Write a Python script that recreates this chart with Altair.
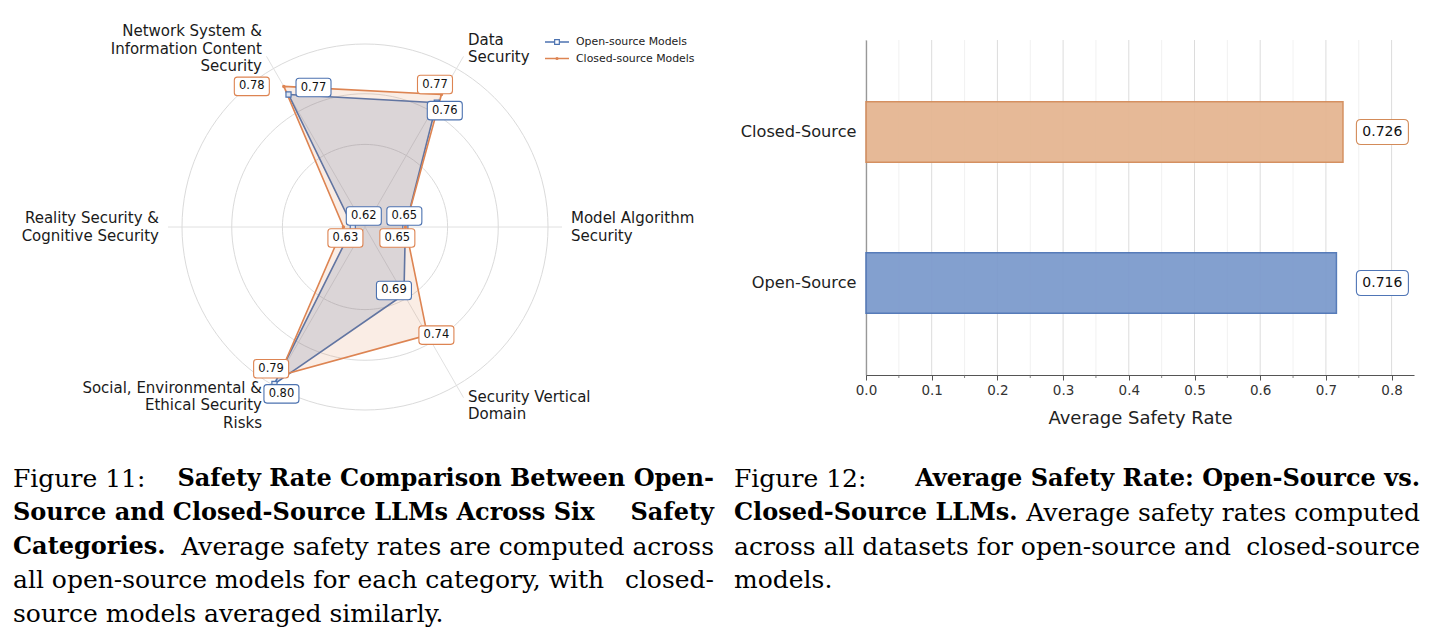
import altair as alt
import pandas as pd

# ---------------- data ----------------
categories = [
    "Network System &\nInformation Content\nSecurity",
    "Data\nSecurity",
    "Model Algorithm\nSecurity",
    "Security Vertical\nDomain",
    "Social, Environmental &\nEthical Security\nRisks",
    "Reality Security &\nCognitive Security",
]
series_names = ["Open-source Models", "Closed-source Models"]
open_rates = [0.77, 0.76, 0.65, 0.69, 0.80, 0.62]
closed_rates = [0.78, 0.77, 0.65, 0.74, 0.79, 0.63]
ring_values = [0.695, 0.749, 0.802]
radial_min = 0.607

bar_groups = ["Closed-Source", "Open-Source"]
bar_rates = [0.726, 0.716]
x_tick_values = [0.0, 0.1, 0.2, 0.3, 0.4, 0.5, 0.6, 0.7, 0.8]
x_minor_values = [0.05, 0.15, 0.25, 0.35, 0.45, 0.55, 0.65, 0.75]

caption_11 = [
    [("Figure 11: ", False), ("Safety Rate Comparison Between Open-", True)],
    [("Source and Closed-Source LLMs Across Six", True), ("Safety", True)],
    [("Categories.", True), ("Average safety rates are computed across", False)],
    [("all open-source models for each category, with", False), ("closed-", False)],
    [("source models averaged similarly.", False)],
]
caption_12 = [
    [("Figure 12: ", False), ("Average Safety Rate: Open-Source vs.", True)],
    [("Closed-Source LLMs.", True), ("Average safety rates computed", False)],
    [("across all datasets for open-source and", False), ("closed-source", False)],
    [("models.", False)],
]

# ---------------- layout / style ----------------
RW, RH = 720, 375          # radar view
CX, CY, UNIT = 365, 227, 183
SPOKE_R = 197 / UNIT
LABEL_R = 206 / UNIT
LABEL_LH = 17.7
BW = 548                   # bar plot width
PX_PER_UNIT = 657
X_MAX = BW / PX_PER_UNIT
PLOT_TOP = 40
GAP = 866 - RW
COLORS = ["#4c72b0", "#dd8452"]
BOX_NUDGE = [
    [(25, -7), (8, 8), (-1, -11), (-10, -4), (7, 10), (11, -11)],
    [(-32, 0), (-6.5, -10), (-8, 11), (9, 0), (-8, -7), (2, 11)],
]
OUTER = ring_values[-1]
CAP_REG, CAP_BOLD = 25.0, 24.0


def box_path(w, h, r):
    hh = h / w
    c = 2 * r / w
    f = lambda v: f"{v:.4f}"
    return (
        f"M{f(-1 + c)},{f(-hh)}L{f(1 - c)},{f(-hh)}Q1,{f(-hh)},1,{f(-hh + c)}"
        f"L1,{f(hh - c)}Q1,{f(hh)},{f(1 - c)},{f(hh)}"
        f"L{f(-1 + c)},{f(hh)}Q-1,{f(hh)},-1,{f(hh - c)}"
        f"L-1,{f(-hh + c)}Q-1,{f(-hh)},{f(-1 + c)},{f(-hh)}Z"
    )


rx = alt.Scale(domain=[-CX / UNIT, (RW - CX) / UNIT], nice=False, zero=False)
ry = alt.Scale(domain=[-(RH - CY) / UNIT, CY / UNIT], nice=False, zero=False)


def RX(f):
    return alt.X(f, type="quantitative", scale=rx, axis=None)


def RY(f):
    return alt.Y(f, type="quantitative", scale=ry, axis=None)


ANG = "(120 - 60*datum.idx)*PI/180"
RR = f"(datum.value - {radial_min})/({OUTER} - {radial_min})"

# radar table
rows = []
for si, (s, vals) in enumerate(zip(series_names, [open_rates, closed_rates])):
    for i, v in enumerate(vals):
        rows.append({"series": s, "idx": i, "value": v, "category": categories[i],
                     "ndx": BOX_NUDGE[si][i][0], "ndy": BOX_NUDGE[si][i][1]})
radar_df = pd.DataFrame(rows)

ring_df = pd.DataFrame([{"value": v, "k": k} for v in ring_values for k in range(121)])
cat_df = pd.DataFrame({"idx": list(range(len(categories))), "category": categories,
                       "nlines": [c.count("\n") + 1 for c in categories]})


def radar_base(df):
    return alt.Chart(df).transform_calculate(ang=ANG, rr=RR).transform_calculate(
        px="datum.rr*cos(datum.ang)", py="datum.rr*sin(datum.ang)")


rings = alt.Chart(ring_df).transform_calculate(
    ang="datum.k*3*PI/180", rr=RR
).transform_calculate(
    px="datum.rr*cos(datum.ang)", py="datum.rr*sin(datum.ang)"
).mark_line(color="#d6d6d6", strokeWidth=0.9).encode(
    x=RX("px"), y=RY("py"), detail="value:N", order="k:Q")

spokes = alt.Chart(cat_df).transform_calculate(
    ang=ANG, zero="0"
).transform_calculate(
    sx=f"{SPOKE_R}*cos(datum.ang)", sy=f"{SPOKE_R}*sin(datum.ang)"
).mark_rule(color="#dcdcdc", strokeWidth=0.9).encode(
    x=RX("zero"), y=RY("zero"), x2="sx:Q", y2="sy:Q")

polys = []
fill_op = [0.2, 0.15]
for si, s in enumerate(series_names):
    polys.append(
        radar_base(radar_df).transform_filter(alt.datum.series == s).mark_line(
            interpolate="linear-closed", fill=COLORS[si], fillOpacity=fill_op[si],
            stroke=COLORS[si], strokeWidth=1.6
        ).encode(x=RX("px"), y=RY("py"), order="idx:Q")
    )

markers_open = radar_base(radar_df).transform_filter(alt.datum.series == series_names[0]).mark_point(
    shape="square", size=26, filled=True, fill="#dfe5f0", stroke=COLORS[0], strokeWidth=1.2, opacity=1
).encode(x=RX("px"), y=RY("py"))
markers_closed = radar_base(radar_df).transform_filter(alt.datum.series == series_names[1]).mark_point(
    shape="circle", size=12, filled=True, color=COLORS[1], opacity=1
).encode(x=RX("px"), y=RY("py"))

RBOX = box_path(35, 18.5, 3)
boxes = []
for si, s in enumerate(series_names):
    b = radar_base(radar_df).transform_filter(alt.datum.series == s).transform_calculate(
        bx=f"datum.px + datum.ndx/{UNIT}", by=f"datum.py - datum.ndy/{UNIT}")
    boxes.append(b.mark_point(shape=RBOX, size=35 ** 2, filled=True, fill="white",
                              stroke=COLORS[si], strokeWidth=1.1, opacity=1)
                 .encode(x=RX("bx"), y=RY("by")))
    boxes.append(b.mark_text(font="DejaVu Sans", fontSize=11.5, color="#111")
                 .encode(x=RX("bx"), y=RY("by"), text=alt.Text("value:Q", format=".2f")))

cat_base = alt.Chart(cat_df).transform_calculate(ang=ANG).transform_calculate(
    lx=f"{LABEL_R}*cos(datum.ang)",
    ly=f"{LABEL_R}*sin(datum.ang) + (datum.nlines - 1)*{LABEL_LH}/2/{UNIT}")
cat_left = cat_base.transform_filter("datum.idx >= 1 && datum.idx <= 3").mark_text(
    align="left", baseline="middle", lineBreak="\n", lineHeight=LABEL_LH,
    font="DejaVu Sans", fontSize=15, color="#1a1a1a"
).encode(x=RX("lx"), y=RY("ly"), text="category:N")
cat_right = cat_base.transform_filter("datum.idx < 1 || datum.idx > 3").mark_text(
    align="right", baseline="middle", lineBreak="\n", lineHeight=LABEL_LH,
    font="DejaVu Sans", fontSize=15, color="#1a1a1a"
).encode(x=RX("lx"), y=RY("ly"), text="category:N")

legend_layers = []
for si, s in enumerate(series_names):
    ldf = pd.DataFrame({"series": [s]})
    yy = 42 + 16.5 * si
    legend_layers.append(alt.Chart(ldf).mark_rule(color=COLORS[si], strokeWidth=1.5).encode(
        x=alt.value(545), x2=alt.value(569), y=alt.value(yy)))
    if si == 0:
        legend_layers.append(alt.Chart(ldf).mark_point(shape="square", size=22, filled=True, fill="white",
                                                       stroke=COLORS[si], strokeWidth=1.2, opacity=1)
                             .encode(x=alt.value(557), y=alt.value(yy)))
    else:
        legend_layers.append(alt.Chart(ldf).mark_point(shape="circle", size=10, filled=True,
                                                       color=COLORS[si], opacity=1)
                             .encode(x=alt.value(557), y=alt.value(yy)))
    legend_layers.append(alt.Chart(ldf).mark_text(align="left", baseline="middle", font="DejaVu Sans",
                                                  fontSize=10.9, color="#222")
                         .encode(x=alt.value(576), y=alt.value(yy), text="series:N"))


# captions
def caption_layers(lines, x0, x1, y0, dy):
    out = []
    for li, segs in enumerate(lines):
        y = y0 + dy * li
        for gi, (txt, bold) in enumerate(segs):
            right = (gi == len(segs) - 1) and len(segs) > 1
            out.append(alt.Chart(pd.DataFrame({"t": [txt]})).mark_text(
                align="right" if right else "left", baseline="middle", font="DejaVu Serif",
                fontSize=CAP_BOLD if bold else CAP_REG, fontWeight="bold" if bold else "normal",
                color="black"
            ).encode(x=alt.value(x1 if right else x0), y=alt.value(y), text="t:N"))
    return out


captions = caption_layers(caption_11, 13, 714, 479, 33.8) + caption_layers(caption_12, 734, 1420, 479, 33.8)

radar = alt.layer(rings, spokes, *polys, markers_open, markers_closed, *boxes,
                  cat_left, cat_right, *legend_layers, *captions).properties(width=RW, height=RH)

# ---------------- bar chart ----------------
bar_df = pd.DataFrame({"group": bar_groups, "rate": bar_rates})
bx_scale = alt.Scale(domain=[0, X_MAX], nice=False, zero=False)
x_axis = alt.Axis(values=x_tick_values, format=".1f", labelFlush=False, grid=False, tickSize=5,
                  tickColor="#555", tickWidth=1, domainColor="#555", domainWidth=1.2,
                  labelFontSize=13.5, labelColor="#333", labelFont="DejaVu Sans", labelPadding=3,
                  title="Average Safety Rate", titleFontSize=18, titleFontWeight="normal",
                  titleFont="DejaVu Sans", titleColor="#222", titlePadding=13)
by_scale = alt.Scale(domain=bar_groups, range=[PLOT_TOP, RH], paddingInner=0.6, paddingOuter=0.41)
y_axis = alt.Axis(title=None, ticks=False, labelFontSize=16.2, labelColor="#222", labelPadding=10,
                  domainColor="#555", domainWidth=1.2, labelFont="DejaVu Sans")


def BX(f):
    return alt.X(f, type="quantitative", scale=bx_scale, axis=x_axis)


def BY(f):
    return alt.Y(f, type="nominal", scale=by_scale, axis=y_axis, sort=bar_groups)


fill_scale = alt.Scale(domain=bar_groups, range=["#e5b692", "#7d9bcd"])
stroke_scale = alt.Scale(domain=bar_groups, range=["#d38b59", "#4f75b6"])

minor_df = pd.DataFrame({"v": x_minor_values})
major_df = pd.DataFrame({"v": x_tick_values})

grid_minor = alt.Chart(minor_df).mark_rule(color="#eeeeee", strokeWidth=0.8).encode(
    x=BX("v"), y=alt.value(PLOT_TOP), y2=alt.value(RH))
grid_major = alt.Chart(major_df).mark_rule(color="#dcdcdc", strokeWidth=1).encode(
    x=BX("v"), y=alt.value(PLOT_TOP), y2=alt.value(RH))
minor_ticks = alt.Chart(minor_df).mark_rule(color="#666", strokeWidth=0.8).encode(
    x=BX("v"), y=alt.value(RH), y2=alt.value(RH + 3))
bars = alt.Chart(bar_df).mark_bar(strokeWidth=1.5, opacity=0.95).encode(
    x=BX("rate"), y=BY("group"),
    fill=alt.Fill("group:N", scale=fill_scale, legend=None),
    stroke=alt.Stroke("group:N", scale=stroke_scale, legend=None))

lab_base = alt.Chart(bar_df).transform_joinaggregate(mx="max(rate)").transform_calculate(
    lx="datum.mx + 0.06")
bar_boxes = lab_base.mark_point(shape=box_path(52, 25, 4.5), size=52 ** 2, filled=True, fill="white",
                                strokeWidth=1.1, opacity=1).encode(
    x=BX("lx"), y=BY("group"), stroke=alt.Stroke("group:N", scale=stroke_scale, legend=None))
bar_text = lab_base.mark_text(font="DejaVu Sans", fontSize=14, color="#111").encode(
    x=BX("lx"), y=BY("group"), text=alt.Text("rate:Q", format=".3f"))

barchart = alt.layer(grid_minor, grid_major, bars, minor_ticks, bar_boxes, bar_text).properties(
    width=BW, height=RH)

chart = alt.hconcat(radar, barchart, spacing=GAP, bounds="flush").properties(
    padding=0, background="white").configure_view(stroke=None)

chart.save("out.html", embed_options={"renderer": "svg", "actions": False})
